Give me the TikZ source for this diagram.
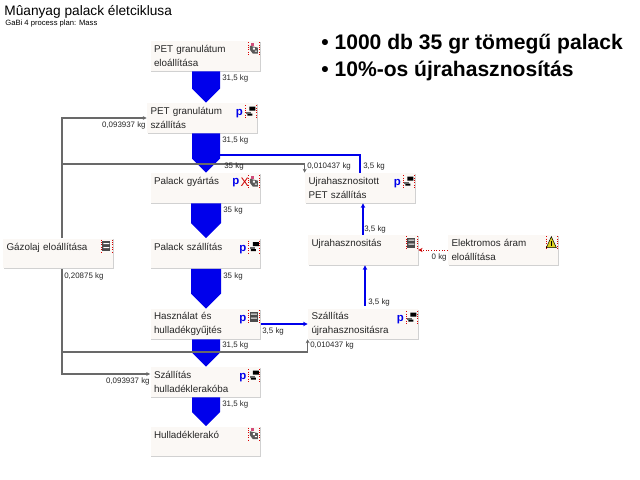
\documentclass[tikz,border=0pt]{standalone}
\usepackage{xcolor}
\usepackage{fontspec}
\setmainfont{Liberation Sans}
\usetikzlibrary{calc,shadows,arrows.meta}
\definecolor{flowblue}{RGB}{0, 0, 235}
\definecolor{boxfill}{RGB}{251, 248, 245}
\definecolor{feedgray}{RGB}{105, 105, 105}

% block arrow: from, to, half width
\newcommand{\blockflow}[3]{
    \fill[flowblue] ($(#1.south -| axis)+(-#3,0)$) -- ($(#1.south -| axis)+(#3,0)$)
        -- ($(#2.north -| axis)+(#3,-#3)$) -- (#2.north -| axis)
        -- ($(#2.north -| axis)+(-#3,-#3)$) -- cycle;
}

\begin{document}
\begin{tikzpicture}[x=0.02cm, y=-0.02cm,
    main/.style = {fill=boxfill, text=black!85, minimum width=2.2cm, minimum height=0.6cm,
        inner xsep=0.07cm, inner ysep=0pt, text width=2.06cm, align=left,
        font=\fontsize{5.6}{8}\selectfont,
        drop shadow={shadow xshift=0.4pt, shadow yshift=-0.5pt, fill=black!18, opacity=1}},
    kg/.style = {inner sep=0pt, text=black!85, font=\fontsize{4.5}{5}\selectfont, anchor=west},
    kgleft/.style = {kg, anchor=east},
    feed/.style = {draw=feedgray, line width=0.8pt},
    feedtip/.style = {feed, -{Stealth[length=2.2pt,width=2.2pt]}},
    bluepipe/.style = {draw=flowblue, line width=1.3pt},
    bluetip/.style = {bluepipe, -{Stealth[length=2.6pt,width=2.6pt]}},
    redtip/.style = {draw=red!80!black, densely dotted, line width=0.5pt, -{Stealth[length=2.4pt,width=2.4pt]}},
    letterp/.style = {inner sep=0pt, text=flowblue, font=\fontsize{6.5}{7}\bfseries\selectfont},
    frameline/.style = {draw=red!85!black, densely dotted, line width=0.35pt},
    framed/.pic = {
        \draw[frameline] (-5.5,-6.5) -- (-5.5,6.5) (5.5,-6.5) -- (5.5,6.5);
    },
    truck/.pic = {
        \pic {framed};
        \fill[black] (-1,-5) rectangle (5,-1) (-3,2) rectangle (2,4);
        \fill[black!60] (-4,0) rectangle (1,2);
    },
    plant/.pic = {
        \pic {framed};
        \fill[black!70] (-4,-5) rectangle (4,5);
        \fill[white] (-3,-3) rectangle (3,-2) (-3,1) rectangle (3,2);
    },
    dump/.pic = {
        \pic {framed};
        \fill[black!65] (-4,-3) -- (4,-1) -- (4,5) -- (-1,5) -- (-4,1) -- cycle;
        \fill[purple!70] (-3,-6) rectangle (0,-3);
        \fill[white] (-1,-1) rectangle (1,1) (1,2) rectangle (3,3);
    },
    flash/.pic = {
        \pic {framed};
        \fill[yellow!85!black, draw=black, line width=0.3pt] (0,-6) -- (5,5) -- (-5,5) -- cycle;
        \fill[black] (-0.8,-2) rectangle (0.8,3);
    }]
    \useasboundingbox[fill=white] (0,0) rectangle (640,480);
    \coordinate (axis) at (206,0);
    \coordinate (bus) at (62,0);
    \coordinate (busup) at (62,164);
    \coordinate (buslow) at (62,352);
    \coordinate (branch) at (220,155);

    \node[main] (petelo) at (205.5,56) {PET granulátum\\eloállítása};
    \node[main] (petszall) at (202,118) {PET granulátum\\szállítás};
    \node[main] (gyartas) at (205.5,188) {Palack gyártás\\\mbox{}};
    \node[main] (palszall) at (205.5,253.5) {Palack szállítás\\\mbox{}};
    \node[main] (hasznalat) at (205.5,324) {Használat és\\hulladékgyűjtés};
    \node[main] (hullszall) at (205.5,382) {Szállítás\\hulladéklerakóba};
    \node[main] (lerako) at (205.5,441.5) {Hulladéklerakó\\\mbox{}};
    \node[main] (gazolaj) at (58,253.5) {Gázolaj eloállítása\\\mbox{}};
    \node[main] (ujrapet) at (360,188) {Ujrahasznositott\\PET szállítás};
    \node[main] (ujra) at (363,250) {Ujrahasznositás\\\mbox{}};
    \node[main] (elektro) at (503,250) {Elektromos áram\\eloállítása};
    \node[main] (ujraszall) at (363,324) {Szállítás\\újrahasznositásra};

    \blockflow{petelo}{petszall}{14}
    \blockflow{petszall}{gyartas}{14}
    \blockflow{gyartas}{palszall}{15}
    \blockflow{palszall}{hasznalat}{15}
    \blockflow{hasznalat}{hullszall}{14}
    \blockflow{hullszall}{lerako}{14}

    \draw[feedtip] (gazolaj.north -| bus) |- (petszall.west);
    \draw[feedtip] (busup) -| (ujrapet.north west);
    \draw[feedtip] (buslow) -| (ujraszall.south west);
    \draw[feedtip] (gazolaj.south -| bus) |- ($(hullszall.west)+(0,-8)$);

    \draw[bluepipe] (branch) -| (ujrapet.north);
    \draw[bluetip] (ujra.north) -- (ujra.north |- ujrapet.south);
    \draw[bluetip] ($(ujraszall.north)+(2,-3)$) -- ($(ujra.south)+(2,0)$);
    \draw[bluetip] (hasznalat.east) -- (ujraszall.west);
    \draw[redtip] (elektro.west) -- (ujra.east);

    \node[kg] (k1) at (222,78) {31,5 kg};
    \node[kgleft] (k2) at (146,125) {0,093937 kg};
    \node[kg] (k3) at (222,140) {31,5 kg};
    \node[kg] (k4) at (224,166) {35 kg};
    \node[kg] (k5) at (307,166) {0,010437 kg};
    \node[kg] (k6) at (363,166) {3,5 kg};
    \node[kg] (k7) at (223,210) {35 kg};
    \node[kg] (k8) at (364,229) {3,5 kg};
    \node[kg] (k9) at (223,276) {35 kg};
    \node[kg] (k10) at (64,276) {0,20875 kg};
    \node[kgleft] (k11) at (447,257) {0 kg};
    \node[kg] (k12) at (368,302) {3,5 kg};
    \node[kg] (k13) at (262,331) {3,5 kg};
    \node[kg] (k14) at (222,345) {31,5 kg};
    \node[kg] (k15) at (310,345) {0,010437 kg};
    \node[kgleft] (k16) at (150,381) {0,093937 kg};
    \node[kg] (k17) at (222,404) {31,5 kg};

    \foreach \boxname in {petszall, palszall, hullszall, ujrapet, ujraszall}{
        \pic at ($(\boxname.north east)+(-7,9)$) {truck};
        \node[letterp] (p\boxname) at ($(\boxname.north east)+(-18,11)$) {p};
    }
    \pic at ($(hasznalat.north east)+(-7,8)$) {plant};
    \node[letterp] (phasznalat) at ($(hasznalat.north east)+(-18,11)$) {p};
    \pic at ($(gazolaj.north east)+(-7,8)$) {plant};
    \pic at ($(ujra.north east)+(-7,8)$) {plant};
    \pic at ($(elektro.north east)+(-7,8)$) {flash};
    \pic at ($(petelo.north east)+(-7,8)$) {dump};
    \pic at ($(gyartas.north east)+(-7,9)$) {dump};
    \pic at ($(lerako.north east)+(-7,8)$) {dump};
    \node[letterp] (pgyartas) at ($(gyartas.north east)+(-25,10)$) {p};
    \node[inner sep=0pt, text=red!80!black, font=\fontsize{7}{7}\selectfont] (xgyartas) at ($(gyartas.north east)+(-16,10)$) {X};

    \node[inner sep=0pt, anchor=base west, font=\fontsize{7.8}{9}\selectfont] (title) at (4,15) {Mûanyag palack életciklusa};
    \node[inner sep=0pt, anchor=base west, font=\fontsize{4.35}{5}\selectfont] (subtitle) at (5,26) {GaBi 4 process plan: Mass};
    \node[inner sep=0pt, anchor=base west, font=\fontsize{12}{14}\bfseries\selectfont] (note1) at (321,50) {• 1000 db 35 gr tömegű palack};
    \node[inner sep=0pt, anchor=base west, font=\fontsize{12}{14}\bfseries\selectfont] (note2) at (321,76) {• 10\%-os újrahasznosítás};
\end{tikzpicture}
\end{document}
